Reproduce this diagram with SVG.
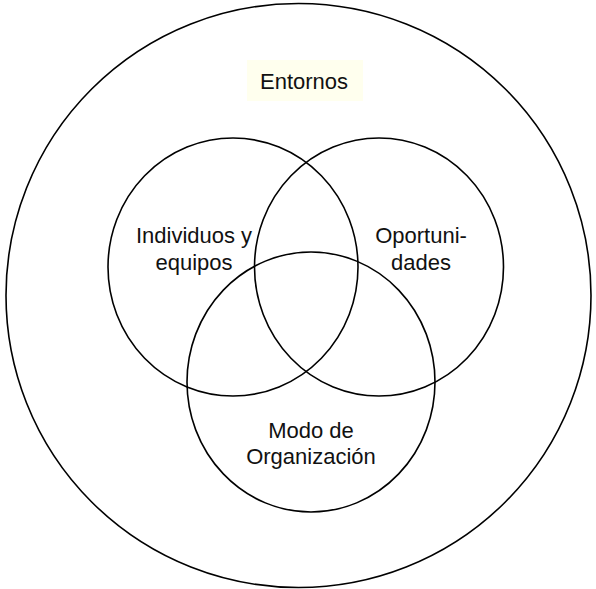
<svg xmlns="http://www.w3.org/2000/svg" width="596" height="589" viewBox="0 0 596 589">
<style>
.c{fill:none;stroke:#000;stroke-width:1.6}
.t{font-family:"Liberation Sans",Arial,sans-serif;font-size:22px;fill:#111;text-anchor:middle}
</style>
<rect width="596" height="589" fill="#fff"/>
<g id="entornos">
<ellipse class="c" cx="298.5" cy="295.5" rx="292.5" ry="292"/>
<rect x="247" y="60" width="116" height="41" fill="#FFFFEE"/>
<text class="t" x="304" y="89">Entornos</text>
</g>
<g id="individuos">
<ellipse class="c" cx="233" cy="267" rx="125" ry="129"/>
<text class="t" x="194" y="243">Individuos y</text>
<text class="t" x="194" y="270">equipos</text>
</g>
<g id="oportunidades">
<ellipse class="c" cx="379" cy="267" rx="124.5" ry="129"/>
<text class="t" x="421" y="243">Oportuni-</text>
<text class="t" x="421" y="270">dades</text>
</g>
<g id="modo">
<ellipse class="c" cx="311" cy="382" rx="124" ry="130"/>
<text class="t" x="311" y="438">Modo de</text>
<text class="t" x="311" y="464">Organización</text>
</g>
<g id="connectors"></g>
</svg>
